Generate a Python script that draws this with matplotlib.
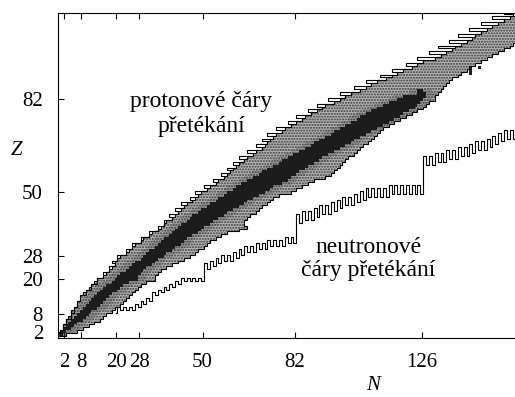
import numpy as np
import matplotlib
matplotlib.use("Agg")
import matplotlib.pyplot as plt

# proton drip line: smallest bound N for every Z (Z = 1 ... 112)
z_pdrip = np.arange(1, 113)
n_pdrip = np.array([
    0, 1, 2, 2, 3, 3, 5, 5, 6, 6, 7, 7, 8, 8, 10, 10, 12, 12, 14, 14,
    16, 16, 18, 18, 20, 19, 21, 21, 24, 24, 26, 26, 29, 29, 32, 32, 35, 35, 37, 37,
    40, 39, 42, 41, 44, 43, 47, 46, 49, 48, 52, 51, 55, 54, 58, 57, 60, 59, 62, 61,
    65, 63, 68, 66, 71, 69, 73, 71, 75, 73, 78, 76, 81, 80, 85, 83, 88, 87, 92, 90,
    96, 94, 100, 98, 105, 103, 109, 107, 114, 112, 118, 116, 123, 121, 127, 125, 133, 129, 137, 132,
    140, 136, 144, 139, 147, 143, 151, 147, 155, 151, 158, 155])

# known nuclides: N range for every Z (Z = 1 ... 110)
z_known = np.arange(1, 111)
n_known_min = np.array([
    0, 1, 2, 2, 3, 3, 4, 5, 5, 6, 7, 7, 8, 8, 9, 10, 11, 12, 13, 14,
    16, 17, 18, 19, 20, 20, 21, 22, 24, 25, 26, 27, 29, 30, 32, 33, 35, 36, 37, 38,
    40, 41, 42, 43, 44, 45, 47, 48, 49, 50, 52, 53, 55, 56, 58, 59, 60, 61, 62, 63,
    65, 66, 68, 69, 71, 72, 73, 74, 75, 76, 78, 79, 81, 83, 85, 86, 88, 90, 92, 93,
    96, 98, 100, 102, 105, 107, 109, 111, 114, 116, 118, 120, 123, 125, 127, 131, 133, 135, 137, 138,
    140, 142, 144, 145, 147, 149, 151, 153, 155, 157])
n_known_max = np.array([
    2, 6, 8, 10, 12, 14, 15, 16, 18, 19, 21, 22, 23, 24, 25, 26, 27, 28, 30, 33,
    33, 34, 35, 37, 39, 41, 43, 45, 47, 48, 50, 51, 52, 54, 56, 58, 62, 65, 64, 64,
    65, 66, 68, 69, 70, 72, 73, 74, 76, 80, 82, 84, 86, 88, 92, 94, 95, 96, 97, 98,
    99, 100, 102, 103, 104, 105, 107, 108, 109, 110, 111, 112, 114, 116, 118, 120, 122, 124, 126, 127,
    128, 130, 130, 131, 132, 133, 134, 135, 136, 138, 139, 141, 142, 144, 146, 148, 150, 152, 154, 156,
    157, 158, 159, 162, 162, 162, 162, 162, 162, 162])

# stable nuclides: N range for every Z (Z = 1 ... 85)
z_stable = np.arange(1, 86)
n_stable_min = np.array([
    0, 1, 2, 3, 4, 5, 6, 7, 8, 9, 10, 11, 12, 13, 14, 15, 16, 17, 19, 20,
    21, 22, 24, 25, 26, 27, 29, 30, 31, 32, 34, 35, 36, 37, 39, 40, 41, 42, 43, 45,
    46, 47, 49, 50, 52, 53, 55, 56, 58, 59, 61, 62, 64, 66, 68, 70, 71, 73, 75, 77,
    78, 80, 82, 84, 86, 88, 89, 91, 93, 95, 96, 98, 100, 102, 104, 105, 107, 109, 111, 113,
    115, 118, 120, 125, 125])
n_stable_max = np.array([
    1, 2, 4, 5, 6, 8, 9, 10, 11, 13, 14, 15, 16, 17, 18, 20, 21, 22, 24, 27,
    27, 28, 29, 30, 32, 33, 34, 36, 37, 39, 40, 42, 43, 44, 46, 48, 49, 50, 52, 53,
    55, 57, 58, 60, 62, 64, 65, 67, 69, 71, 73, 74, 77, 79, 80, 82, 83, 85, 86, 88,
    90, 91, 93, 95, 97, 99, 101, 102, 104, 106, 108, 110, 112, 114, 116, 118, 119, 121, 123, 124,
    125, 126, 127, 127, 126])
# long-lived heavy nuclei (Th, U)
z_long = [91, 92, 93, 93]
n_long = [143, 143, 143, 146]

# neutron drip line: smallest bound Z for every N (N = 20 ... 158)
n_ndrip = np.arange(20, 159)
z_ndrip = np.array([
    9, 11, 10, 11, 10, 11, 10, 12, 11, 13, 12, 14, 13, 16, 15, 17, 16, 18, 17, 19,
    18, 20, 19, 21, 20, 21, 20, 21, 20, 21, 20, 26, 24, 27, 25, 28, 26, 29, 27, 29,
    27, 30, 28, 31, 29, 32, 30, 32, 30, 33, 31, 33, 31, 34, 32, 34, 32, 34, 32, 35,
    33, 35, 33, 43, 40, 44, 41, 44, 41, 45, 42, 46, 43, 46, 43, 47, 44, 48, 45, 49,
    46, 49, 46, 50, 47, 51, 48, 52, 49, 52, 49, 52, 49, 52, 49, 53, 50, 53, 50, 53,
    50, 53, 50, 53, 50, 53, 50, 63, 60, 63, 60, 64, 61, 64, 61, 65, 62, 65, 62, 66,
    63, 66, 63, 67, 64, 68, 65, 68, 65, 69, 66, 70, 67, 71, 68, 72, 69, 72, 69])

magic = [2, 8, 20, 28, 50, 82, 126]
magic_z = [2, 8, 20, 28, 50, 82]

SERIF = ["Liberation Serif", "DejaVu Serif"]

fig = plt.figure(figsize=(5.15, 3.97), dpi=100)
ax = fig.add_axes([58.3 / 515, 59.5 / 397, 1 - 58.3 / 515, 324.5 / 397])

# known nuclides (stippled area with outline)
xs = np.concatenate([np.repeat(n_known_min - 0.5, 2), np.repeat(n_known_max[::-1] + 0.5, 2)])
ys = np.concatenate([np.ravel(np.column_stack([z_known - 0.5, z_known + 0.5])),
                     np.ravel(np.column_stack([z_known[::-1] + 0.5, z_known[::-1] - 0.5]))])
ax.fill(xs, ys, facecolor="#b4b4b4", edgecolor="none", zorder=1)

# denser stipple next to the valley of stability
zk = z_stable[z_stable <= z_known[-1]]
h_lo = np.maximum(n_stable_min - 3, n_known_min[zk - 1])
h_hi = np.minimum(n_stable_max + 3, n_known_max[zk - 1])
ax.barh(z_stable, h_hi - h_lo + 1, left=h_lo - 0.5, height=1,
        color="#999999", linewidth=0, zorder=1.5)

ax.fill(xs, ys, facecolor="none", edgecolor="#3a3a3a", hatch="......", linewidth=0, zorder=2)

# stable nuclides
ax.barh(z_stable, n_stable_max - n_stable_min + 1, left=n_stable_min - 0.5, height=1,
        color="#1c1c1c", linewidth=0, zorder=3)
ax.barh(z_long, 1, left=np.array(n_long) - 0.5, height=1, color="#1c1c1c", linewidth=0, zorder=3)

ax.fill(xs, ys, facecolor="none", edgecolor="black", linewidth=0.8, zorder=4)

# drip lines
px = np.repeat(n_pdrip - 0.5, 2)
py = np.ravel(np.column_stack([z_pdrip - 0.5, z_pdrip + 0.5]))
ax.plot(px, py, color="black", linewidth=0.8, zorder=5)
ax.step(n_ndrip, z_ndrip - 0.5, where="mid", color="black", linewidth=0.8, zorder=5)

ax.set_xlim(0, 158.3)
ax.set_ylim(0, 111.7)
ax.set_xticks(magic)
ax.set_yticks(magic_z)
ax.tick_params(direction="in", length=4, width=0.8, top=True, labelsize=15, pad=11)
for lab in ax.get_xticklabels() + ax.get_yticklabels():
    lab.set_family(SERIF)
ax.spines["right"].set_visible(False)
for s in ("left", "bottom", "top"):
    ax.spines[s].set_linewidth(0.8)

fig.text(201 / 515, 1 - 107.3 / 397, "protonové čáry", family=SERIF, fontsize=17,
         ha="center", va="baseline")
fig.text(201 / 515, 1 - 131.7 / 397, "přetékání", family=SERIF, fontsize=17,
         ha="center", va="baseline")
fig.text(368.5 / 515, 1 - 253.3 / 397, "neutronové", family=SERIF, fontsize=17,
         ha="center", va="baseline")
fig.text(368.5 / 515, 1 - 276 / 397, "čáry přetékání", family=SERIF, fontsize=17,
         ha="center", va="baseline")
fig.text(373 / 515, 1 - 385 / 397, "N", family=SERIF, style="italic", fontsize=15,
         ha="center", va="center")
fig.text(17 / 515, 1 - 150 / 397, "Z", family=SERIF, style="italic", fontsize=15,
         ha="center", va="center")

fig.savefig("out.png", dpi=100)
